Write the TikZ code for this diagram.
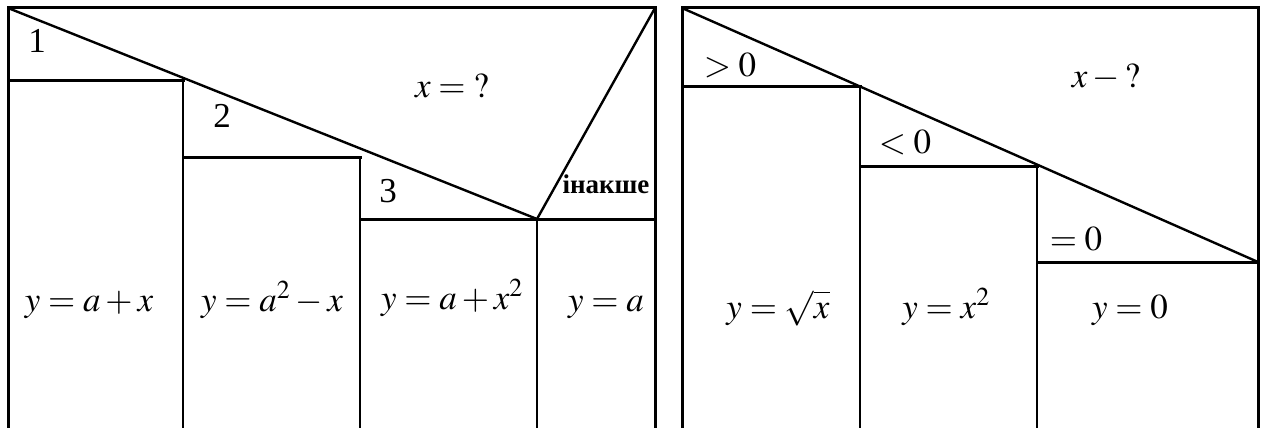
\documentclass[tikz,border=0pt]{standalone}
\usepackage{mathptmx}
\usepackage[no-math]{fontspec}
\setmainfont{Liberation Serif}
\begin{document}
\begin{tikzpicture}[x=1pt,y=-1pt,
  ln/.style={line width=3pt, line cap=rect},
  thin ln/.style={line width=2.4pt},
  lbl/.style={font=\fontsize{35}{38}\selectfont, inner sep=0pt, anchor=base},
  bold lbl/.style={font=\fontsize{27}{29}\selectfont\bfseries, inner sep=0pt, anchor=base}]
\useasboundingbox (0,0) rectangle (1267,428);
\begin{scope}
\clip (0,0) rectangle (1267,428);
% ---------- left diagram ----------
\coordinate (LTL) at (8,8);
\coordinate (LTR) at (655,8);
\coordinate (LBL) at (8,440);
\coordinate (LBR) at (655,440);
\coordinate (A1) at (8,81);   \coordinate (A2) at (183,81);  \coordinate (A3) at (183,440);
\coordinate (B1) at (183,157); \coordinate (B2) at (360,157); \coordinate (B3) at (360,440);
\coordinate (C1) at (360,219); \coordinate (C2) at (655,219);
\coordinate (P) at (537,219);  \coordinate (P3) at (537,440);
\draw[ln] (LTL) -- (LTR);
\draw[ln] (LTL) -- (LBL);
\draw[ln] (LTR) -- (LBR);
\draw[ln] (A1) -- (A2);
\draw[thin ln] (A2) -- (A3);
\draw[ln] (B1) -- (B2);
\draw[thin ln] (B2) -- (B3);
\draw[ln] (C1) -- (C2);
\draw[thin ln] (P) -- (P3);
\draw[thin ln] (LTL) -- (P);
\draw[thin ln] (P) -- (LTR);
% ---------- right diagram ----------
\coordinate (RTL) at (682,8);
\coordinate (RTR) at (1258,8);
\coordinate (RBL) at (682,440);
\coordinate (RBR) at (1258,440);
\coordinate (D1) at (682,87);  \coordinate (D2) at (860,87);  \coordinate (D3) at (860,440);
\coordinate (E1) at (860,166); \coordinate (E2) at (1037,166); \coordinate (E3) at (1037,440);
\coordinate (F1) at (1037,262); \coordinate (F2) at (1258,262);
\draw[ln] (RTL) -- (RTR);
\draw[ln] (RTL) -- (RBL);
\draw[ln] (RTR) -- (RBR);
\draw[ln] (D1) -- (D2);
\draw[thin ln] (D2) -- (D3);
\draw[ln] (E1) -- (E2);
\draw[thin ln] (E2) -- (E3);
\draw[ln] (F1) -- (F2);
\draw[thin ln] (RTL) -- (F2);
\end{scope}
% ---------- labels, left ----------
\node[lbl] (n1) at (37,53) {1};
\node[lbl] (n2) at (222,128) {2};
\node[lbl] (n3) at (388,202) {3};
\node[lbl] (xq) at (452,97) {$x=\mathord{?}$};
\node[bold lbl] (els) at (606,193) {інакше};
\node[lbl] (f1) at (89,311) {$y=a+x$};
\node[lbl] (f2) at (272,311) {$y=a^2-x$};
\node[lbl] (f3) at (452,309) {$y=a+x^2$};
\node[lbl] (f4) at (606,311) {$y=a$};
% ---------- labels, right ----------
\node[lbl] (g1) at (730,77) {$>0$};
\node[lbl] (g2) at (905,153) {$<0$};
\node[lbl] (g3) at (1076,250) {$=0$};
\node[lbl] (xq2) at (1106,88) {$x-\mathord{?}$};
\node[lbl] (h1) at (778,318) {$y=\sqrt{x}$};
\node[lbl] (h2) at (946,318) {$y=x^2$};
\node[lbl] (h3) at (1130,318) {$y=0$};
\end{tikzpicture}
\end{document}
